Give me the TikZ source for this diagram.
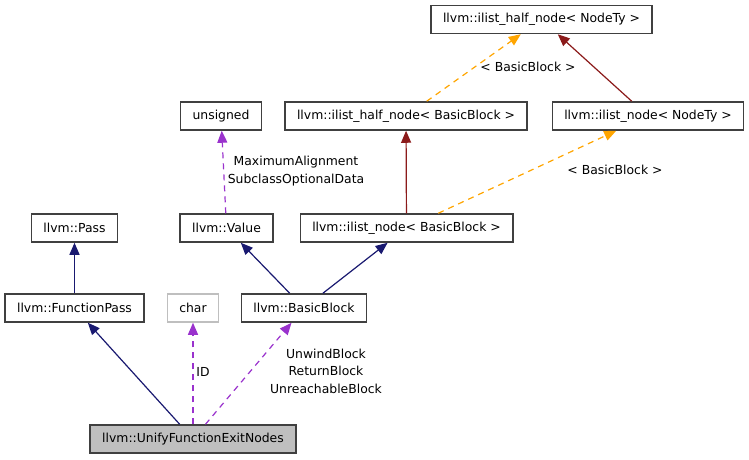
\documentclass[tikz,border=0pt]{standalone}
\usepackage{fontspec}
\setmainfont{DejaVu Sans}
\usetikzlibrary{arrows.meta}
\definecolor{edgeblue}{HTML}{191970}
\definecolor{edgepurple}{HTML}{9A32CD}
\definecolor{edgeorange}{HTML}{FFA500}
\definecolor{edgered}{HTML}{8B1A1A}
\begin{document}
\begin{tikzpicture}[x=1pt, y=-1pt, font=\fontsize{12.4}{17.5}\selectfont, >={Triangle[length=12pt,width=10pt]}]
			\tikzstyle{block}=[draw=black!75, line width=1.5pt, rectangle, fill=white, minimum height=28pt, inner xsep=12pt, inner ysep=0pt]
			\tikzstyle{mainblock}=[block, fill=black!25]
			\tikzstyle{plainblock}=[block, draw=black!25]
			\tikzstyle{inherit}=[->, draw=edgeblue, line width=1.2pt]
			\tikzstyle{usage}=[->, draw=edgepurple, line width=1.2pt, dash pattern=on 6pt off 5pt]
			\tikzstyle{tmpl}=[->, draw=edgeorange, line width=1.2pt, dash pattern=on 6pt off 5pt]
			\tikzstyle{inheritred}=[->, draw=edgered, line width=1.2pt]
			\tikzstyle{label}=[align=center, inner sep=0pt]

			\useasboundingbox (0,0) rectangle (749,459);

			\node[block] (halfty) at (541.5,19.5) {llvm::ilist\_half\_node< NodeTy >};
			\node[block] (halfbb) at (406,116) {llvm::ilist\_half\_node< BasicBlock >};
			\node[block] (nodety) at (648,116) {llvm::ilist\_node< NodeTy >};
			\node[block] (unsigned) at (221,116) {unsigned};
			\node[block] (pass) at (74.5,228) {llvm::Pass};
			\node[block] (value) at (226.5,228) {llvm::Value};
			\node[block] (nodebb) at (406.5,228) {llvm::ilist\_node< BasicBlock >};
			\node[block] (fpass) at (74.5,308) {llvm::FunctionPass};
			\node[plainblock] (char) at (193,308) {char};
			\node[block] (bblock) at (304,308) {llvm::BasicBlock};
			\node[mainblock] (ufen) at (193,439) {llvm::UnifyFunctionExitNodes};

			\draw[inherit] (fpass) -- (pass);
			\draw[inherit] (ufen) -- (fpass);
			\draw[usage] (ufen) -- (char);
			\draw[usage] (ufen) -- (bblock);
			\draw[inherit] (bblock) -- (value);
			\draw[inherit] (bblock) -- (nodebb);
			\draw[usage] (value) -- (unsigned);
			\draw[inheritred] (nodebb) -- (halfbb);
			\draw[tmpl] (nodebb) -- (nodety);
			\draw[tmpl] (halfbb) -- (halfty);
			\draw[inheritred] (nodety) -- (halfty);

			\node[label] (idlbl) at (203,372) {ID};
			\node[label] (bblbl) at (326,371) {UnwindBlock\\ReturnBlock\\UnreachableBlock};
			\node[label] (vallbl) at (296,171) {MaximumAlignment\\SubclassOptionalData};
			\node[label] (tmpllbl) at (615,170) {< BasicBlock >};
			\node[label] (halflbl) at (528,67) {< BasicBlock >};
\end{tikzpicture}
\end{document}
